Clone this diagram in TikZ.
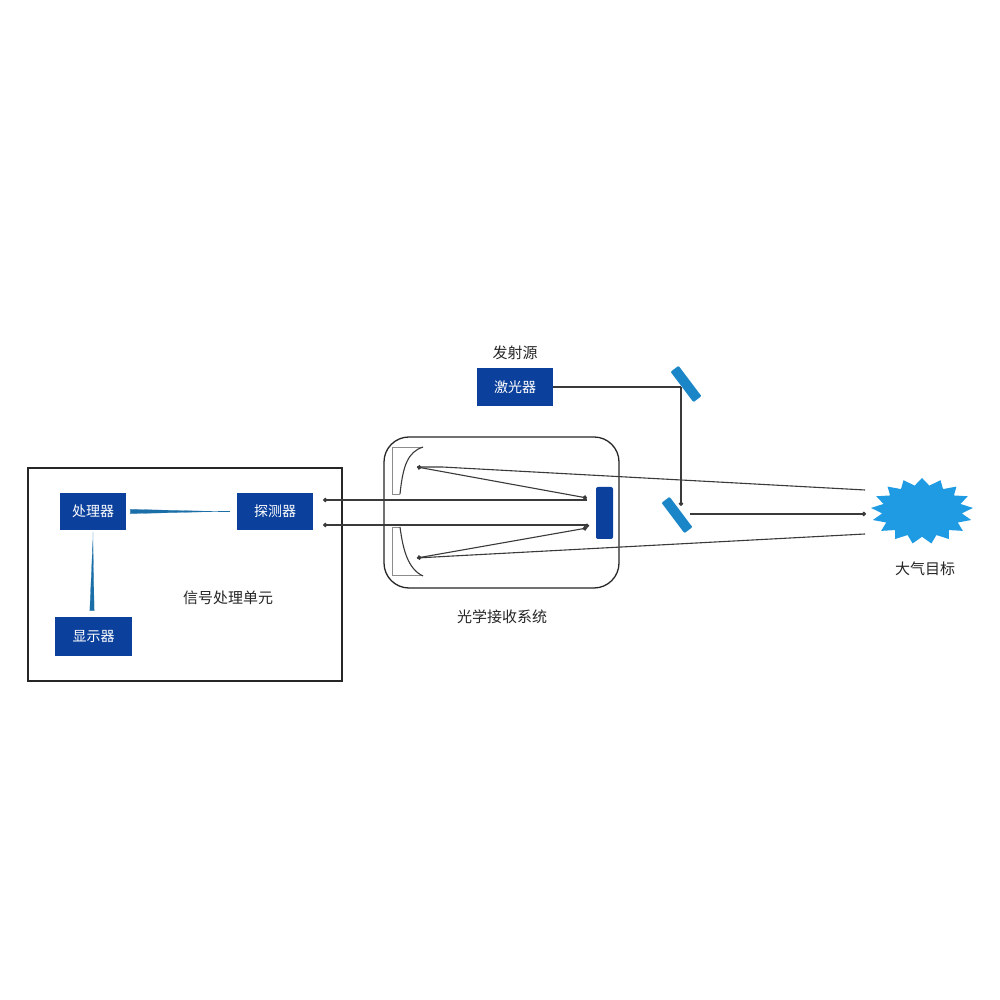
\documentclass[tikz,border=0pt]{standalone}
\usepackage{fontspec}
\setmainfont{Noto Sans CJK SC}
\usetikzlibrary{shapes.geometric, arrows.meta}
\definecolor{boxBlue}{HTML}{0B409C}
\definecolor{mirrorBlue}{HTML}{1A86C8}
\definecolor{starBlue}{HTML}{1E9BE3}
\definecolor{feedBlue}{HTML}{1B6FA8}
\definecolor{lineGray}{HTML}{3A3A3A}
\tikzset{
    objBox/.style={rectangle, minimum width=76pt, minimum height=38pt, fill=boxBlue, text=white, font=\fontsize{14}{14}\selectfont, inner sep=0pt},
    objLabel/.style={text=black!85, font=\fontsize{15}{15}\selectfont, inner sep=0pt},
    objMirror/.style={rectangle, rounded corners=1pt, minimum width=38pt, minimum height=10pt, fill=mirrorBlue, rotate=-53},
    frameLine/.style={draw=black!85, line width=1.3pt},
    beam/.style={draw=lineGray, line width=1.1pt},
    arrow/.style={beam, -{Circle[length=4.5pt]}},
    arrowBoth/.style={beam, {Circle[length=4.5pt]}-{Circle[length=4.5pt]}},
    feed/.style={draw=feedBlue, line width=0.2pt, -{Triangle[reversed, length=#1, width=4.5pt, color=feedBlue]}}
}
\begin{document}
\begin{tikzpicture}[x=1pt, y=1pt, node distance=100pt]
    \useasboundingbox (0,0) rectangle (1000,1000);
    \fill[white] (0,0) rectangle (1000,1000);

    % processing unit
    \node (frame) [frameLine, rectangle, minimum width=314pt, minimum height=213pt, inner sep=0pt] at (185,425.5) {};
    \node (proc) [objBox, minimum width=66pt, minimum height=37pt] at (93,488.5) {处理器};
    \node (rcv) [objBox, minimum height=37pt, right of=proc, xshift=82pt] {探测器};
    \node (disp) [objBox, minimum width=77pt, minimum height=39pt, below of=proc, yshift=-25pt, xshift=0.5pt] {显示器};
    \node (unitText) [objLabel] at (228,402) {信号处理单元};

    % telescope
    \node (scope) [frameLine, rectangle, rounded corners=25pt, minimum width=235pt, minimum height=151pt, inner sep=0pt] at (501.5,487.5) {};
    \node (second) [rectangle, rounded corners=2pt, fill=boxBlue, minimum width=17pt, minimum height=52pt, inner sep=0pt] at (604.5,487) {};
    \node (scopeText) [objLabel] at (502,383) {光学接收系统};
    \draw[draw=black!45, line width=0.8pt] (423,553) -- (392,553) -- (392,506) -- (400,506);
    \draw[beam] (400,506) .. controls (403,535) and (408,548) .. (423,553);
    \draw[draw=black!45, line width=0.8pt] (400,473) -- (392,473) -- (392,425) -- (423,425);
    \draw[beam] (400,473) .. controls (403,450) and (408,431) .. (423,424);

    % laser and mirrors
    \node (laser) [objBox] at (515,613) {激光器};
    \node (laserText) [objLabel, above of=laser, yshift=-66pt] {发射源};
    \node (mirrorA) [objMirror] at (686,616) {};
    \node (mirrorB) [objMirror] at (677,485) {};

    % target
    \node (target) [star, star points=17, star point ratio=1.28, minimum size=66pt, inner sep=0pt, fill=starBlue, xscale=1.55, transform shape] at (922,489) {};
    \node (targetText) [objLabel] at (925,431) {大气目标};

    % beam points
    \coordinate (turn) at (681,613);
    \coordinate (hit) at (681,494);
    \coordinate (out) at (690,486);
    \coordinate (aim) at (866,486);
    \coordinate (rxA) at (323,500);
    \coordinate (rxB) at (323,475);
    \coordinate (focA) at (587,502);
    \coordinate (focB) at (587,472);
    \coordinate (inA) at (417,533);
    \coordinate (inB) at (417,442);
    \coordinate (bendA) at (442,533);
    \coordinate (bendB) at (453,444);
    \coordinate (farA) at (865,510);
    \coordinate (farB) at (865,466);

    \draw[beam] (laser.east) -- (turn);
    \draw[arrow] (turn) -- (hit);
    \draw[arrow] (out) -- (aim);
    \draw[beam, {Circle[length=4.5pt]}-] (rxA) -- (587,500);
    \draw[arrowBoth] (rxB) -- (587,475) -- (focB);
    \draw[arrowBoth] (inA) -- (focA);
    \draw[arrowBoth] (inB) -- (focB);
    \draw[beam] (farA) -- (bendA) -- (inA);
    \draw[beam] (farB) -- (bendB) -- (inB);

    \draw[feed=92pt] ([xshift=-7pt]rcv.west) -- ([xshift=4pt]proc.east);
    \draw[feed=74pt] ([yshift=-2pt]proc.south) -- ([xshift=-1.5pt, yshift=6pt]disp.north);

\end{tikzpicture}
\end{document}
